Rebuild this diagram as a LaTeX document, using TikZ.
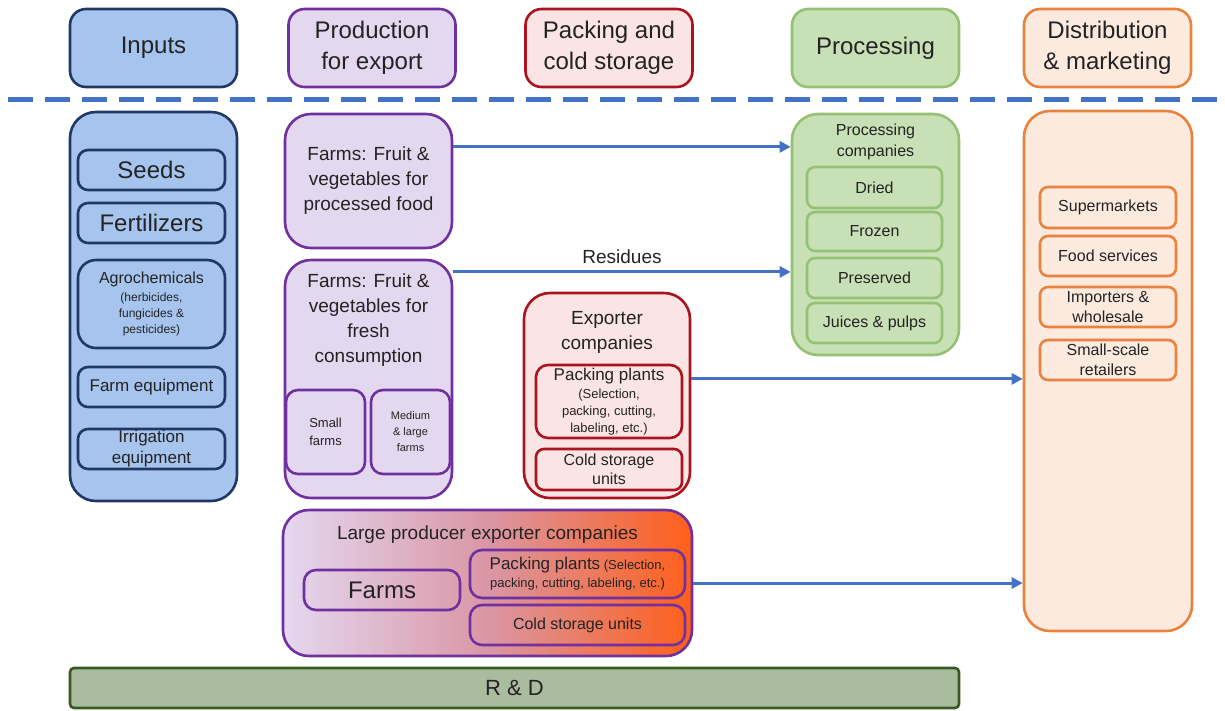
\documentclass[tikz,border=0pt]{standalone}
\usepackage{fontspec}
\setmainfont{Liberation Sans}
\usetikzlibrary{arrows.meta,calc}

\definecolor{inblue}{RGB}{166,196,238}
\definecolor{indark}{RGB}{31,56,100}
\definecolor{prodfill}{RGB}{228,216,240}
\definecolor{proddark}{RGB}{112,48,160}
\definecolor{packfill}{RGB}{251,228,228}
\definecolor{packdark}{RGB}{170,20,30}
\definecolor{procfill}{RGB}{199,224,181}
\definecolor{procdark}{RGB}{150,193,116}
\definecolor{distfill}{RGB}{252,234,222}
\definecolor{distdark}{RGB}{232,130,60}
\definecolor{rdfill}{RGB}{170,188,160}
\definecolor{rddark}{RGB}{56,87,35}
\definecolor{flowblue}{RGB}{68,114,196}
\definecolor{txt}{RGB}{35,35,35}

\newcommand{\fsz}[2]{\fontsize{#1}{#2}\selectfont}

\tikzset{
  box/.style={draw, line width=2.6pt, rounded corners=12pt, align=center, inner sep=0pt, text=txt},
  inputsbox/.style={box, fill=inblue, draw=indark},
  prodbox/.style={box, fill=prodfill, draw=proddark},
  packbox/.style={box, fill=packfill, draw=packdark},
  procbox/.style={box, fill=procfill, draw=procdark},
  distbox/.style={box, fill=distfill, draw=distdark},
  hdr/.style={minimum width=167, minimum height=78, rounded corners=16pt, font=\fsz{24}{31}},
  column/.style={rounded corners=26pt},
  label/.style={align=center, inner sep=0pt, text=txt},
  sepline/.style={flowblue, line width=5pt, dash pattern=on 25pt off 12pt},
  flow/.style={draw=flowblue, line width=3pt, -{Triangle[length=11pt,width=11pt]}}
}

\begin{document}
\begin{tikzpicture}[x=1pt, y=-1pt]
\useasboundingbox (0,0) rectangle (1225,710);

% Column headers
\node[inputsbox, hdr] (hinputs) at (153.5,48) {Inputs};
\node[prodbox, hdr] (hprod) at (372,48) {Production\\for export};
\node[packbox, hdr] (hpack) at (609,48) {Packing and\\cold storage};
\node[procbox, hdr] (hproc) at (875.5,48) {Processing};
\node[distbox, hdr] (hdist) at (1107.5,48) {Distribution\\\& marketing};

% Separator
\draw[sepline] (8,99) -- (1230,99);

% Inputs
\node[inputsbox, column, minimum width=167, minimum height=389] (inputs) at (153.5,306.5) {};
\node[inputsbox, minimum width=147, minimum height=40, rounded corners=10pt, font=\fsz{24}{28}] (seeds) at (151.5,170) {Seeds};
\node[inputsbox, minimum width=147, minimum height=40, rounded corners=10pt, font=\fsz{24}{28}] (fert) at (151.5,223) {Fertilizers};
\node[inputsbox, minimum width=147, minimum height=88, rounded corners=18pt, font=\fsz{12}{16}] (agro) at (151.5,304)
  {{\fsz{16}{16}Agrochemicals}\\[2pt](herbicides,\\fungicides \&\\pesticides)};
\node[inputsbox, minimum width=147, minimum height=40, rounded corners=10pt, font=\fsz{17}{21}] (farmeq) at (151.5,387) {Farm equipment};
\node[inputsbox, minimum width=147, minimum height=40, rounded corners=10pt, font=\fsz{17}{21}] (irrig) at (151.5,449) {Irrigation\\equipment};

% Production for export
\node[prodbox, column, minimum width=167, minimum height=134, font=\fsz{19}{25}] (fproc) at (368.5,181)
  {Farms: Fruit \&\\vegetables for\\processed food};
\node[prodbox, column, minimum width=167, minimum height=238] (ffresh) at (368.5,379) {};
\node[label, font=\fsz{19}{25}] (ffreshtxt) at (368.5,320.5) {Farms: Fruit \&\\vegetables for\\fresh\\consumption};
\node[prodbox, minimum width=79, minimum height=84, font=\fsz{13}{18}] (small) at (325.5,432) {Small\\farms};
\node[prodbox, minimum width=79, minimum height=84, font=\fsz{11}{16}] (medlarge) at (410.5,432) {Medium\\\& large\\farms};

% Large producer exporter companies
\node[box, column, draw=proddark, left color=prodfill, right color={rgb,255:red,255;green,95;blue,25},
  middle color={rgb,255:red,218;green,150;blue,165}, minimum width=409, minimum height=146] (lprod) at (487.5,583) {};
\node[label, font=\fsz{19}{25}] (lprodtxt) at (487.5,535) {Large producer exporter companies};
\node[box, draw=proddark, minimum width=156, minimum height=40, font=\fsz{24}{28}] (lfarms) at (382,590) {Farms};
\node[box, draw=proddark, minimum width=215, minimum height=48, font=\fsz{13}{18}] (lpack) at (577.5,574)
  {{\fsz{17}{18}Packing plants} (Selection,\\packing, cutting, labeling, etc.)};
\node[box, draw=proddark, minimum width=215, minimum height=40, font=\fsz{16}{20}] (lcold) at (577.5,625) {Cold storage units};

% Packing and cold storage
\node[packbox, column, minimum width=166, minimum height=205] (exp) at (607,395.5) {};
\node[label, font=\fsz{19}{25}] (exptxt) at (607,332.5) {Exporter\\companies};
\node[packbox, minimum width=146, minimum height=73, font=\fsz{13}{17}] (pplant) at (609,401.5)
  {{\fsz{17}{17}Packing plants}\\[1pt](Selection,\\packing, cutting,\\labeling, etc.)};
\node[packbox, minimum width=146, minimum height=41, rounded corners=8pt, font=\fsz{16}{19}] (coldst) at (609,469.5) {Cold storage\\units};

% Processing
\node[procbox, column, minimum width=167, minimum height=241] (proc) at (875.5,234.5) {};
\node[label, font=\fsz{16}{21}] (proctxt) at (875.5,141.5) {Processing\\companies};
\node[procbox, minimum width=135, minimum height=41, rounded corners=8pt, font=\fsz{16}{20}] (dried) at (874.5,187.5) {Dried};
\node[procbox, minimum width=135, minimum height=39, rounded corners=8pt, font=\fsz{16}{20}] (frozen) at (874.5,231.5) {Frozen};
\node[procbox, minimum width=135, minimum height=40, rounded corners=8pt, font=\fsz{16}{20}] (preserved) at (874.5,278) {Preserved};
\node[procbox, minimum width=135, minimum height=40, rounded corners=8pt, font=\fsz{16}{20}] (juices) at (874.5,323) {Juices \& pulps};

% Distribution & marketing
\node[distbox, column, minimum width=168, minimum height=520] (dist) at (1108,371) {};
\node[distbox, minimum width=136, minimum height=41, rounded corners=8pt, font=\fsz{16}{20}] (superm) at (1108,207.5) {Supermarkets};
\node[distbox, minimum width=136, minimum height=40, rounded corners=8pt, font=\fsz{16}{20}] (foodsv) at (1108,256) {Food services};
\node[distbox, minimum width=136, minimum height=40, rounded corners=8pt, font=\fsz{16}{20}] (importers) at (1108,307) {Importers \&\\wholesale};
\node[distbox, minimum width=136, minimum height=40, rounded corners=8pt, font=\fsz{16}{20}] (retail) at (1108,360) {Small-scale\\retailers};

% R & D
\node[box, fill=rdfill, draw=rddark, rounded corners=4pt, minimum width=889, minimum height=40, font=\fsz{22}{26}] (rd) at (514.5,688) {R \& D};

% Flows
\coordinate (a1) at ($(fproc.north east)!0.25!(fproc.south east)$);
\coordinate (a2) at ($(ffresh.north east)!0.055!(ffresh.south east)$);
\coordinate (a3) at ($(exp.north east)!0.42!(exp.south east)$);
\draw[flow] (a1) -- (a1 -| proc.west);
\draw[flow] (a2) -- node[label, above=7pt, font=\fsz{19}{25}] (residues) {Residues} (a2 -| proc.west);
\draw[flow] (a3) -- (a3 -| dist.west);
\draw[flow] (lprod.east) -- (lprod.east -| dist.west);

\end{tikzpicture}
\end{document}
